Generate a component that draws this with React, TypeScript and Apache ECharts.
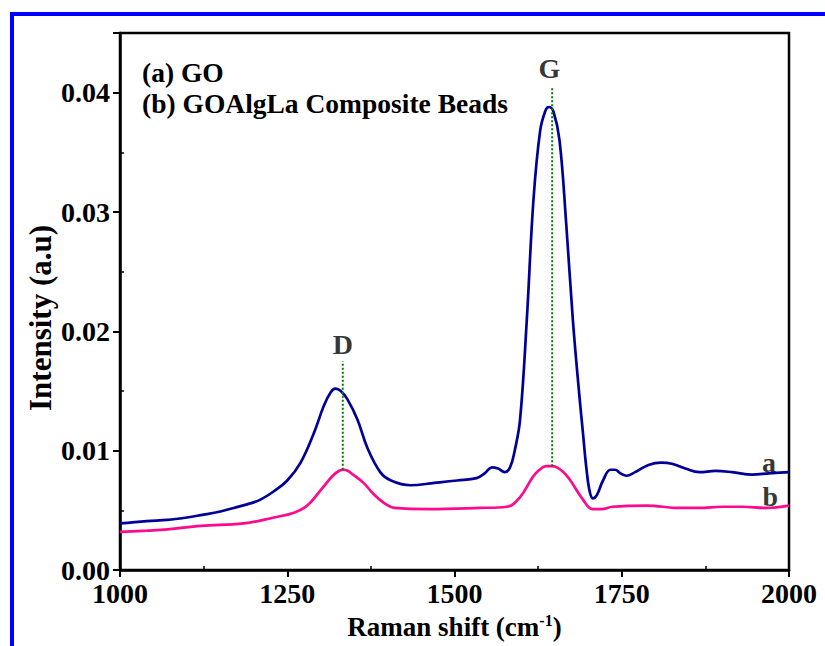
import React, { useEffect, useRef } from "react";
import * as echarts from "echarts";

// Curve (a) GO
const shiftA = [1000, 1040, 1071, 1100, 1121, 1150, 1170, 1190, 1210, 1230, 1250, 1270, 1290, 1305, 1315, 1322, 1330, 1340, 1355, 1370, 1389, 1405, 1434, 1470, 1504, 1533, 1545, 1556, 1565, 1575, 1583, 1590, 1598, 1608, 1618, 1628, 1636, 1641, 1648, 1657, 1667, 1677, 1686, 1692, 1697, 1702, 1707, 1713, 1722, 1733, 1740, 1748, 1757, 1770, 1790, 1809, 1825, 1845, 1866, 1890, 1915, 1945, 1970, 2000];
const intensityA = [0.0039, 0.0041, 0.0042, 0.0044, 0.0046, 0.0049, 0.0052, 0.0055, 0.0059, 0.0066, 0.0075, 0.0090, 0.0115, 0.0138, 0.0149, 0.0152, 0.0150, 0.0143, 0.0126, 0.0102, 0.0082, 0.0075, 0.0071, 0.0073, 0.0075, 0.0077, 0.0081, 0.0086, 0.0085, 0.0082, 0.0086, 0.0100, 0.0126, 0.0209, 0.0310, 0.0368, 0.0385, 0.0388, 0.0384, 0.0360, 0.0290, 0.0209, 0.0150, 0.0115, 0.0086, 0.0066, 0.0060, 0.0063, 0.0075, 0.0084, 0.0084, 0.0081, 0.0079, 0.0082, 0.0088, 0.0090, 0.0089, 0.0085, 0.0082, 0.0083, 0.0082, 0.0080, 0.0081, 0.0082];

// Curve (b) GOAlgLa Composite Beads
const shiftB = [1000, 1040, 1071, 1121, 1185, 1230, 1260, 1280, 1300, 1318, 1327, 1334, 1341, 1348, 1364, 1380, 1395, 1410, 1463, 1538, 1578, 1598, 1617, 1627, 1637, 1645, 1653, 1663, 1672, 1692, 1706, 1720, 1736, 1787, 1836, 1866, 1900, 1930, 1966, 2000];
const intensityB = [0.0032, 0.0033, 0.0034, 0.0037, 0.0039, 0.0044, 0.0048, 0.0054, 0.0067, 0.0079, 0.0083, 0.0084, 0.0083, 0.0080, 0.0073, 0.0063, 0.0056, 0.0052, 0.0051, 0.0052, 0.0053, 0.0061, 0.0078, 0.0084, 0.0087, 0.0087, 0.0086, 0.0082, 0.0076, 0.0059, 0.0051, 0.0051, 0.0053, 0.0054, 0.0052, 0.0052, 0.0053, 0.0053, 0.0052, 0.0054];

// Peak marker lines (position, from, to)
const peakD = [1333, 0.0084, 0.0175];
const peakG = [1646, 0.0087, 0.0405];

// Peak / curve labels
const labelNames = ["D", "G", "a", "b"];
const labelX = [1333, 1642, 1970, 1972];
const labelY = [0.0189, 0.0420, 0.00905, 0.0062];

const xTicks = { min: 1000, max: 2000, interval: 250 };
const yTicks = { min: 0, max: 0.045, interval: 0.01 };

const FONT = "'Liberation Serif', 'Times New Roman', serif";

export default function App() {
  const ref = useRef<HTMLDivElement>(null);
  useEffect(() => {
    if (!ref.current) return;
    const chart = echarts.init(ref.current, undefined, { renderer: "svg" });
    const axisCommon = {
      axisLine: { show: true, onZero: false, lineStyle: { color: "#000", width: 2.5 } },
      axisTick: { show: true, inside: false, length: 7, lineStyle: { color: "#000", width: 2 } },
      minorTick: { show: true, splitNumber: 2, length: -4, lineStyle: { color: "#000", width: 1.5 } },
      splitLine: { show: false },
    };
    chart.setOption({
      animation: false,
      backgroundColor: "#fff",
      grid: { left: 120, right: 36, top: 33, bottom: 76, show: true, borderColor: "#000", borderWidth: 2.5, backgroundColor: "transparent" },
      xAxis: {
        type: "value",
        min: xTicks.min,
        max: xTicks.max,
        interval: xTicks.interval,
        ...axisCommon,
        axisLabel: { color: "#000", fontSize: 28, fontWeight: "bold", fontFamily: FONT, margin: 9, formatter: (v: number) => String(v) },
        name: "{n|Raman shift (cm}{s|-1}{n|)}",
        nameLocation: "middle",
        nameGap: 42,
        nameTextStyle: {
          rich: {
            n: { fontSize: 27, fontWeight: "bold", fontFamily: FONT, color: "#000" },
            s: { fontSize: 16, fontWeight: "bold", fontFamily: FONT, color: "#000", verticalAlign: "top", padding: [0, 0, 14, 0] },
          },
        },
      },
      yAxis: {
        type: "value",
        min: yTicks.min,
        max: yTicks.max,
        interval: yTicks.interval,
        ...axisCommon,
        axisLabel: {
          color: "#000",
          fontSize: 28,
          fontWeight: "bold",
          fontFamily: FONT,
          margin: 10,
          formatter: (v: number) => (Math.abs(v * 100 - Math.round(v * 100)) < 1e-6 ? v.toFixed(2) : ""),
        },
      },
      series: [
        {
          type: "line",
          data: shiftA.map((x, i) => [x, intensityA[i]]),
          smooth: 0.4,
          showSymbol: false,
          lineStyle: { color: "#000099", width: 2.7 },
        },
        {
          type: "line",
          data: shiftB.map((x, i) => [x, intensityB[i]]),
          smooth: 0.4,
          showSymbol: false,
          lineStyle: { color: "#ff0a8c", width: 2.7 },
        },
        {
          type: "line",
          data: [[peakD[0], peakD[1]], [peakD[0], peakD[2]]],
          showSymbol: false,
          lineStyle: { color: "#008000", width: 2, type: [2, 2] },
        },
        {
          type: "line",
          data: [[peakG[0], peakG[1]], [peakG[0], peakG[2]]],
          showSymbol: false,
          lineStyle: { color: "#008000", width: 2, type: [2, 2] },
        },
        {
          type: "scatter",
          symbolSize: 1,
          itemStyle: { color: "transparent" },
          data: labelNames.map((n, i) => ({ name: n, value: [labelX[i], labelY[i]] })),
          label: {
            show: true,
            position: "inside",
            formatter: (p: any) => p.name,
            color: "#000",
            fontWeight: "bold",
            fontFamily: FONT,
            fontSize: 28,
          },
        },
      ],
      graphic: [
        {
          type: "rect",
          silent: true,
          shape: { x: 12, y: 14, width: 1000, height: 1000 },
          style: { fill: "none", stroke: "#0000ff", lineWidth: 4 },
        },
        {
          type: "text",
          x: 40,
          y: 318,
          rotation: Math.PI / 2,
          style: { text: "Intensity (a.u)", fontSize: 31, fontWeight: "bold", fontFamily: FONT, fill: "#000", align: "center", verticalAlign: "middle" },
        },
        {
          type: "text",
          left: 142,
          top: 58,
          style: { text: "(a) GO", fontSize: 27.5, fontWeight: "bold", fontFamily: FONT, fill: "#000" },
        },
        {
          type: "text",
          left: 142,
          top: 89,
          style: { text: "(b) GOAlgLa Composite Beads", fontSize: 27.5, fontWeight: "bold", fontFamily: FONT, fill: "#000" },
        },
      ],
    });
    return () => chart.dispose();
  }, []);
  return <div ref={ref} style={{ position: "fixed", left: 0, top: 0, width: 825, height: 646 }} />;
}
